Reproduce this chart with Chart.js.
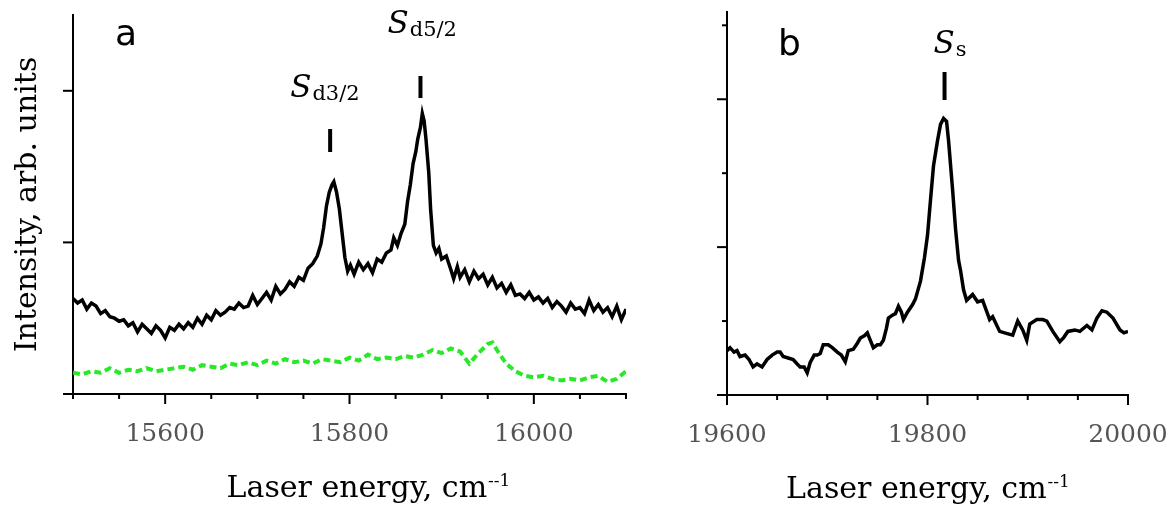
<!DOCTYPE html>
<html>
<head>
<meta charset="utf-8">
<script src="https://cdn.jsdelivr.net/npm/chart.js@4"></script>
<style>
  body { margin: 0; background: #fff; }
  canvas { position: absolute; top: 0; }
</style>
</head>
<body>
<canvas id="panelA" width="660" height="508" style="left:0"></canvas>
<canvas id="panelB" width="515" height="508" style="left:660px"></canvas>
<script>
// panel a: black = signal, green dashed = reference
const energyA = [15500,15505,15510,15515,15520,15525,15530,15535,15540,15545,15550,15555,15560,15565,15570,15575,15580,15585,15590,15595,
  15600,15605,15610,15615,15620,15625,15630,15635,15640,15645,15650,15655,15660,15665,15670,15675,15680,15685,15690,15695,
  15700,15705,15710,15715,15720,15725,15730,15735,15740,15745,15750,15755,15760,15765,15769,15772,15775,15778,15781,15783,
  15786,15789,15792,15795,15798,15801,15805,15810,15815,15820,15825,15830,15835,15840,15845,15848,15852,15856,15860,15863,
  15866,15869,15872,15874,15877,15879,15881,15883,15886,15888,15891,15894,15897,15900,15905,15910,15913,15917,15920,15925,
  15930,15935,15940,15945,15950,15955,15960,15965,15970,15975,15980,15985,15990,15995,16000,16005,16010,16015,16020,16025,
  16030,16035,16040,16045,16050,16055,16060,16065,16070,16075,16080,16085,16090,16095,16100];
const signalA = [0.63,0.60,0.62,0.56,0.60,0.58,0.53,0.55,0.51,0.50,0.48,0.49,0.45,0.47,0.41,0.46,0.43,0.40,0.45,0.42,
  0.37,0.44,0.42,0.46,0.43,0.47,0.44,0.50,0.46,0.52,0.49,0.55,0.52,0.54,0.57,0.56,0.60,0.57,0.58,0.65,
  0.59,0.63,0.67,0.62,0.71,0.66,0.69,0.74,0.71,0.77,0.75,0.83,0.86,0.91,0.99,1.10,1.24,1.33,1.38,1.40,
  1.33,1.22,1.06,0.90,0.81,0.85,0.79,0.87,0.82,0.86,0.80,0.89,0.87,0.93,0.95,1.03,0.98,1.06,1.12,1.27,
  1.38,1.52,1.60,1.68,1.76,1.85,1.80,1.68,1.46,1.22,0.98,0.93,0.96,0.89,0.91,0.82,0.76,0.84,0.77,0.82,
  0.74,0.81,0.76,0.79,0.72,0.77,0.70,0.73,0.67,0.72,0.65,0.66,0.63,0.67,0.62,0.64,0.60,0.63,0.57,0.61,
  0.58,0.54,0.60,0.56,0.57,0.53,0.62,0.55,0.59,0.54,0.57,0.51,0.58,0.49,0.56];

const energyRef = [15500,15510,15520,15530,15540,15550,15560,15570,15580,15590,15600,15610,15620,15630,15640,15650,15660,15670,15680,15690,
  15700,15710,15720,15730,15740,15750,15760,15770,15780,15790,15800,15810,15820,15830,15840,15850,15860,15870,15880,15890,
  15900,15910,15920,15930,15940,15950,15955,15960,15970,15980,15990,16000,16010,16020,16030,16040,16050,16060,16070,16080,
  16090,16100];
const refA = [0.14,0.13,0.15,0.14,0.17,0.14,0.16,0.15,0.17,0.15,0.16,0.17,0.18,0.16,0.19,0.18,0.17,0.20,0.19,0.21,
  0.19,0.22,0.20,0.23,0.21,0.22,0.20,0.23,0.22,0.21,0.24,0.22,0.26,0.23,0.24,0.23,0.25,0.24,0.26,0.29,
  0.27,0.30,0.28,0.20,0.27,0.33,0.34,0.29,0.20,0.15,0.12,0.11,0.12,0.10,0.09,0.10,0.09,0.11,0.12,0.08,
  0.10,0.15];

// panel b
const energyB = [19600,19603,19607,19610,19613,19618,19622,19626,19630,19635,19640,19645,19650,19653,19656,19661,19666,19670,19673,19677,
  19680,19683,19687,19690,19693,19696,19701,19705,19710,19714,19718,19721,19726,19730,19733,19737,19740,19743,19746,19750,
  19753,19756,19759,19761,19765,19768,19771,19774,19776,19780,19785,19788,19793,19797,19800,19803,19806,19810,19813,19816,
  19819,19821,19825,19828,19831,19833,19836,19839,19845,19850,19855,19862,19865,19872,19877,19885,19890,19895,19899,19902,
  19909,19915,19919,19925,19932,19936,19940,19947,19952,19959,19964,19969,19974,19979,19985,19992,19996,20000];
const signalB = [0.30,0.32,0.29,0.30,0.26,0.27,0.24,0.19,0.21,0.19,0.24,0.27,0.29,0.29,0.26,0.25,0.24,0.21,0.19,0.19,
  0.15,0.22,0.27,0.27,0.28,0.34,0.34,0.32,0.29,0.27,0.225,0.30,0.31,0.35,0.385,0.40,0.42,0.37,0.32,0.34,
  0.34,0.37,0.45,0.52,0.54,0.55,0.60,0.56,0.51,0.56,0.61,0.65,0.77,0.93,1.08,1.32,1.55,1.72,1.83,1.87,
  1.85,1.72,1.39,1.12,0.91,0.84,0.71,0.64,0.68,0.63,0.64,0.51,0.53,0.43,0.42,0.405,0.50,0.44,0.37,0.48,
  0.51,0.51,0.50,0.43,0.36,0.39,0.43,0.44,0.43,0.47,0.44,0.52,0.57,0.56,0.52,0.44,0.42,0.43];

const ticksA = [15500,15550,15600,15650,15700,15750,15800,15850,15900,15950,16000,16050,16100];
const ticksB = [19600,19650,19700,19750,19800,19850,19900,19950,20000];

const serif = '"DejaVu Serif", serif';

const pairs = (xs, ys) => xs.map((x, i) => ({ x: x, y: ys[i] }));

const decorations = {
  id: 'decorations',
  afterDraw(chart, args, o) {
    const ctx = chart.ctx, xs = chart.scales.x, ys = chart.scales.y;
    const seg = (x1, y1, x2, y2) => { ctx.beginPath(); ctx.moveTo(x1, y1); ctx.lineTo(x2, y2); ctx.stroke(); };
    ctx.save();
    ctx.strokeStyle = '#000';
    ctx.lineWidth = 2;
    o.xTicks.forEach(v => {
      const px = xs.getPixelForValue(v);
      seg(px, ys.bottom, px, ys.bottom + (v % 200 === 0 ? 10 : 5));
    });
    o.yTicks.forEach(v => {
      const py = ys.getPixelForValue(v);
      seg(xs.left + 1, py, xs.left - (Number.isInteger(v) ? 10 : 5), py);
    });

    // peak markers
    ctx.fillStyle = '#000';
    ctx.textBaseline = 'alphabetic';
    ctx.textAlign = 'left';
    o.peaks.forEach(p => {
      const px = xs.getPixelForValue(p.at);
      ctx.lineWidth = 4;
      seg(px, p.bar[0], px, p.bar[1]);
      ctx.font = 'italic 31px ' + serif;
      const tx = px + p.dx;
      ctx.fillText('S', tx, p.ty);
      const w = ctx.measureText('S').width;
      ctx.font = '21px ' + serif;
      ctx.fillText(p.sub, tx + w + 1, p.ty + 3);
    });

    // panel letter
    ctx.font = '36px "DejaVu Sans", sans-serif';
    ctx.fillText(o.letter[0], o.letter[1], o.letter[2]);

    // x title with superscript
    ctx.font = '30px ' + serif;
    const main = 'Laser energy, cm';
    const mw = ctx.measureText(main).width;
    ctx.font = '17px ' + serif;
    const sw = ctx.measureText('--1').width;
    const x0 = o.xTitleX - (mw + sw) / 2;
    ctx.font = '30px ' + serif;
    ctx.fillText(main, x0, o.xTitleY);
    ctx.font = '17px ' + serif;
    ctx.fillText('--1', x0 + mw + 1, o.xTitleY - 11);

    if (o.yTitle) {
      ctx.translate(36, (ys.top + ys.bottom) / 2);
      ctx.rotate(-Math.PI / 2);
      ctx.textAlign = 'center';
      ctx.font = '30px ' + serif;
      ctx.fillText(o.yTitle, 0, 0);
    }
    ctx.restore();
  }
};

function panel(id, datasets, xMin, xMax, yMax, yStep, pad, yW, xH, deco) {
  return new Chart(document.getElementById(id), {
    type: 'line',
    data: { datasets: datasets },
    options: {
      responsive: false,
      animation: false,
      events: [],
      layout: { padding: pad },
      plugins: { legend: { display: false }, tooltip: { enabled: false }, decorations: deco },
      elements: { point: { radius: 0 }, line: { tension: 0 } },
      scales: {
        x: {
          type: 'linear', min: xMin, max: xMax,
          afterFit: s => { s.height = xH; s.paddingLeft = 0; s.paddingRight = 0; },
          grid: { display: false, drawTicks: false },
          border: { display: true, color: '#000', width: 2 },
          ticks: {
            stepSize: 50, autoSkip: false, maxRotation: 0, padding: 25,
            color: '#555', font: { family: serif, size: 25 },
            callback: v => (v % 200 === 0 ? String(v) : '')
          }
        },
        y: {
          min: 0, max: yMax,
          afterFit: s => { s.width = yW; },
          grid: { display: false, drawTicks: false },
          border: { display: true, color: '#000', width: 2 },
          ticks: { display: false, stepSize: yStep }
        }
      }
    },
    plugins: [decorations]
  });
}

window.addEventListener('load', () => {
  panel('panelA', [
    { data: pairs(energyRef, refA), borderColor: '#28e828', borderWidth: 4, borderDash: [7, 4] },
    { data: pairs(energyA, signalA), borderColor: '#000', borderWidth: 3.5 }
  ], 15500, 16100, 2.5, 1, { left: 0, top: 15, right: 34, bottom: 0 }, 73, 114, {
    xTicks: ticksA, yTicks: [0, 1, 2],
    peaks: [
      { at: 15779, bar: [129, 152], dx: -40, ty: 97, sub: 'd3/2' },
      { at: 15877, bar: [76, 98], dx: -33, ty: 33, sub: 'd5/2' }
    ],
    letter: ['a', 115, 45],
    xTitleX: 368, xTitleY: 497,
    yTitle: 'Intensity, arb. units'
  });

  panel('panelB', [
    { data: pairs(energyB, signalB), borderColor: '#000', borderWidth: 3.5 }
  ], 19600, 20000, 2.59, 0.5, { left: 0, top: 12, right: 47, bottom: 0 }, 67, 113, {
    xTicks: ticksB, yTicks: [0, 0.5, 1, 1.5, 2, 2.5],
    peaks: [
      { at: 19817, bar: [72, 100], dx: -11, ty: 53, sub: 's' }
    ],
    letter: ['b', 118, 55],
    xTitleX: 267.5, xTitleY: 498,
    yTitle: null
  });
});
</script>
</body>
</html>
